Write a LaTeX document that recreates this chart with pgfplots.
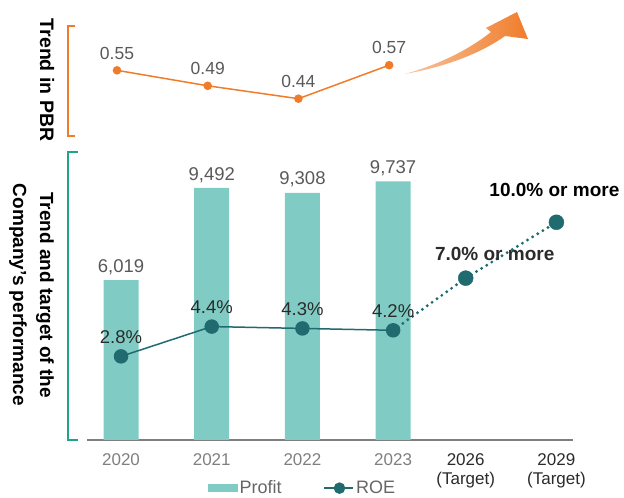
\documentclass[border=0pt]{standalone}
\usepackage{pgfplots}
\pgfplotsset{compat=1.18}
\usepackage{fontspec}
\setmainfont{Liberation Sans}
\definecolor{barteal}{HTML}{80CCC4}
\definecolor{roe}{HTML}{1F6B6F}
\definecolor{pbr}{HTML}{F07C2A}
\definecolor{brteal}{HTML}{1FA38B}
\definecolor{valgray}{HTML}{595959}
\definecolor{tickgray}{HTML}{7F7F7F}
\definecolor{axgray}{HTML}{7F7F7F}
\definecolor{darktxt}{HTML}{2B2B2B}
\definecolor{legtxt}{HTML}{666666}
\begin{document}
\begin{tikzpicture}[x=1pt,y=1pt]
\useasboundingbox (0,0) rectangle (624,498);
% ---------- Profit bars ----------
\begin{axis}[at={(87pt,58pt)}, anchor=south west, scale only axis,
  width=486pt, height=290pt,
  xmin=-0.375, xmax=4.983, ymin=0, ymax=10923,
  axis x line*=bottom, axis y line=none,
  x axis line style={draw=axgray, line width=1.5pt, -},
  xtick={0,1,2,3,3.8,4.8},
  xticklabels={{\color{tickgray}2020},{\color{tickgray}2021},{\color{tickgray}2022},{\color{tickgray}2023},
    {{\color{darktxt}2026}\\{\color{darktxt}(Target)}},{{\color{darktxt}2029}\\{\color{darktxt}(Target)}}},
  xticklabel style={font=\fontsize{17}{19.5}\selectfont, align=center, anchor=north, yshift=-10pt},
  major tick length=0pt,
  /pgf/number format/assume math mode=true,
  clip=false]
\addplot[ybar, bar width=35pt, fill=barteal, draw=none,
  nodes near coords,
  nodes near coords style={font=\fontsize{18.5}{20}\selectfont, text=valgray,
    /pgf/number format/1000 sep={,}, anchor=south, yshift=2pt}]
  coordinates {(0,6019) (1,9492) (2,9308) (3,9737)};
\end{axis}
% ---------- ROE ----------
\begin{axis}[at={(87pt,58pt)}, anchor=south west, scale only axis,
  width=486pt, height=290pt,
  xmin=-0.375, xmax=4.983, ymin=-1.69, ymax=13.88,
  hide axis, clip=false,
  /pgf/number format/assume math mode=true,
  legend style={at={(0.444,-0.166)}, anchor=center, draw=none, fill=none,
    legend columns=2, font=\fontsize{18}{20}\selectfont, text=legtxt,
    /tikz/every even column/.append style={column sep=40pt}, inner sep=0pt},
  legend cell align=left]
\addlegendimage{legend image code/.code={\fill[barteal] (0pt,-3.5pt) rectangle (29pt,3.5pt);}}
\addlegendentry{Profit}
\addplot[roe, line width=1.5pt, mark=*, mark size=6.5pt,
  legend image code/.code={\draw[roe, line width=1.5pt] (0pt,0pt) -- (29pt,0pt); \fill[roe] (15pt,0pt) circle (5pt);},
  nodes near coords={\pgfmathprintnumber[fixed,precision=1,fixed zerofill]{\pgfplotspointmeta}\%},
  nodes near coords style={font=\fontsize{18.5}{20}\selectfont, text=darktxt, anchor=south, yshift=9pt}]
  coordinates {(0,2.8) (1,4.4) (2,4.3) (3,4.2)};
\addlegendentry{ROE}
\addplot[roe, line width=3.2pt, dash pattern=on 0pt off 6pt, line cap=round, forget plot]
  coordinates {(3,4.2) (3.8,7.0) (4.8,10.0)};
\addplot[roe, only marks, mark=*, mark size=7.5pt, forget plot,
  nodes near coords={\textbf{7.0\% or more}},
  nodes near coords style={font=\fontsize{19}{21}\selectfont, text=darktxt, anchor=center, xshift=29pt, yshift=24pt}]
  coordinates {(3.8,7.0)};
\addplot[roe, only marks, mark=*, mark size=7.5pt, forget plot,
  nodes near coords={\textbf{10.0\% or more}},
  nodes near coords style={font=\fontsize{19}{21}\selectfont, text=black, anchor=center, xshift=-2pt, yshift=32pt}]
  coordinates {(4.8,10.0)};
\end{axis}
% ---------- PBR ----------
\begin{axis}[at={(83pt,362pt)}, anchor=south west, scale only axis,
  width=486pt, height=110pt,
  xmin=-0.375, xmax=4.983, ymin=0.2953, ymax=0.722,
  hide axis, clip=false,
  /pgf/number format/assume math mode=true]
\addplot[pbr, line width=1.5pt, mark=*, mark size=3.5pt,
  nodes near coords,
  nodes near coords style={font=\fontsize{17.5}{19}\selectfont, text=valgray,
    /pgf/number format/fixed, /pgf/number format/precision=2, /pgf/number format/fixed zerofill,
    anchor=south, yshift=7pt}]
  coordinates {(0,0.55) (1,0.49) (2,0.44) (3,0.57)};
\end{axis}
% ---------- decorations ----------
\shade[left color=pbr!45, right color=pbr, draw=none]
  (405,424) .. controls (455,433) and (487,449) .. (505,462) -- (528,459) -- (517,486)
  -- (486,470) -- (491,466) .. controls (476,454) and (448,436) .. (405,424) -- cycle;
\draw[pbr, line width=2pt] (75,472) -- (68,472) -- (68,362) -- (75,362);
\draw[brteal, line width=2.5pt] (78,346) -- (68,346) -- (68,58) -- (78,58);
\node[rotate=-90, font=\bfseries\fontsize{19.5}{22}\selectfont] at (47,418) {Trend in PBR};
\node[rotate=-90, align=center, font=\bfseries\fontsize{19}{27}\selectfont] at (31.5,203)
  {Trend and target of the\\Company's performance};
\end{tikzpicture}
\end{document}
